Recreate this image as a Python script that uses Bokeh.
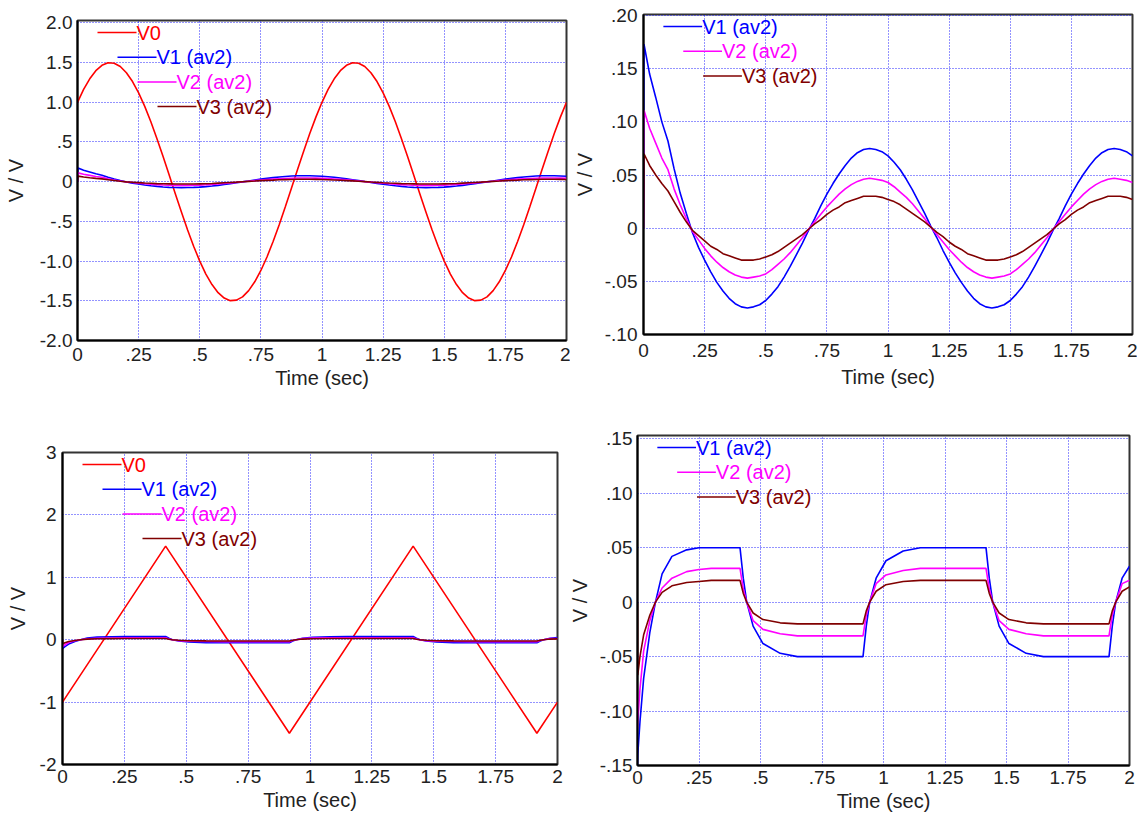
from bokeh.plotting import figure
from bokeh.models import Range1d, FixedTicker
from bokeh.layouts import column, row
from bokeh.core.properties import value
from bokeh.embed import file_html
from bokeh.resources import INLINE

# ---------------- data ----------------
# sine input V0 (sampled every 0.025 s)
T_SINE = [round(0.025 * i, 3) for i in range(81)]
V0_SINE = [1.000, 1.163, 1.296, 1.398, 1.466, 1.498, 1.492, 1.450, 1.372, 1.261,
           1.118, 0.948, 0.754, 0.542, 0.317, 0.083, -0.152, -0.383, -0.606, -0.813,
           -1.000, -1.163, -1.296, -1.398, -1.466, -1.498, -1.492, -1.450, -1.372, -1.261,
           -1.118, -0.948, -0.754, -0.542, -0.317, -0.083, 0.152, 0.383, 0.606, 0.813,
           1.000, 1.163, 1.296, 1.398, 1.466, 1.498, 1.492, 1.450, 1.372, 1.261,
           1.118, 0.948, 0.754, 0.542, 0.317, 0.083, -0.152, -0.383, -0.606, -0.813,
           -1.000, -1.163, -1.296, -1.398, -1.466, -1.498, -1.492, -1.450, -1.372, -1.261,
           -1.118, -0.948, -0.754, -0.542, -0.317, -0.083, 0.152, 0.383, 0.606, 0.813,
           1.000]

# filtered outputs for the sine input
T_SRESP = [0, 0.002] + [round(0.025 * i, 3) for i in range(1, 81)]
V1_SINE = [0.000, 0.173, 0.145, 0.123, 0.100, 0.082, 0.056, 0.033, 0.014, -0.004,
           -0.018, -0.030, -0.041,
           -0.051, -0.059, -0.066, -0.071, -0.074, -0.075, -0.074, -0.072, -0.068, -0.062,
           -0.055, -0.046, -0.036, -0.025, -0.014, -0.002, 0.009, 0.021, 0.032, 0.042,
           0.051, 0.059, 0.066, 0.071, 0.074, 0.075, 0.074, 0.072, 0.068, 0.062,
           0.055, 0.046, 0.036, 0.025, 0.014, 0.002, -0.009, -0.021, -0.032, -0.042,
           -0.051, -0.059, -0.066, -0.071, -0.074, -0.075, -0.074, -0.072, -0.068, -0.062,
           -0.055, -0.046, -0.036, -0.025, -0.014, -0.002, 0.009, 0.021, 0.032, 0.042,
           0.051, 0.059, 0.066, 0.071, 0.074, 0.075, 0.074, 0.072, 0.068]
V2_SINE = [0.000, 0.111, 0.094, 0.080, 0.066, 0.055, 0.037, 0.022, 0.009, -0.003,
           -0.011, -0.019, -0.026,
           -0.032, -0.037, -0.041, -0.044, -0.046, -0.047, -0.046, -0.045, -0.043, -0.039,
           -0.034, -0.029, -0.023, -0.016, -0.009, -0.001, 0.006, 0.013, 0.020, 0.026,
           0.032, 0.037, 0.041, 0.044, 0.046, 0.047, 0.046, 0.045, 0.043, 0.039,
           0.034, 0.029, 0.023, 0.016, 0.009, 0.001, -0.006, -0.013, -0.020, -0.026,
           -0.032, -0.037, -0.041, -0.044, -0.046, -0.047, -0.046, -0.045, -0.043, -0.039,
           -0.034, -0.029, -0.023, -0.016, -0.009, -0.001, 0.006, 0.013, 0.020, 0.026,
           0.032, 0.037, 0.041, 0.044, 0.046, 0.047, 0.046, 0.045, 0.043]
V3_SINE = [0.000, 0.070, 0.059, 0.050, 0.042, 0.035, 0.025, 0.015, 0.006, -0.002,
           -0.007, -0.012, -0.017,
           -0.020, -0.024, -0.026, -0.028, -0.030, -0.030, -0.030, -0.029, -0.027, -0.025,
           -0.022, -0.018, -0.014, -0.010, -0.006, -0.001, 0.004, 0.008, 0.013, 0.017,
           0.020, 0.024, 0.026, 0.028, 0.030, 0.030, 0.030, 0.029, 0.027, 0.025,
           0.022, 0.018, 0.014, 0.010, 0.006, 0.001, -0.004, -0.008, -0.013, -0.017,
           -0.020, -0.024, -0.026, -0.028, -0.030, -0.030, -0.030, -0.029, -0.027, -0.025,
           -0.022, -0.018, -0.014, -0.010, -0.006, -0.001, 0.004, 0.008, 0.013, 0.017,
           0.020, 0.024, 0.026, 0.028, 0.030, 0.030, 0.030, 0.029, 0.027]

# triangle input
T_TRI = [0, 0.4167, 0.9167, 1.4167, 1.9167, 2.0]
V0_TRI = [-1.0, 1.5, -1.5, 1.5, -1.5, -1.0]

# filtered outputs for the triangle input
T_TRESP = [0, 0.001, 0.01, 0.025, 0.05, 0.073, 0.1, 0.14, 0.2, 0.25, 0.3,
           0.4167, 0.43, 0.444, 0.47, 0.51, 0.58, 0.65,
           0.9167, 0.93, 0.944, 0.97, 1.01, 1.08, 1.15,
           1.4167, 1.43, 1.444, 1.47, 1.51, 1.58, 1.65,
           1.9167, 1.93, 1.944, 1.97, 2.0]
V1_TRI = [-0.150, -0.140, -0.110, -0.070, -0.028, 0.000, 0.026, 0.042, 0.048, 0.050, 0.050,
          0.050, 0.022, 0.000, -0.022, -0.038, -0.047, -0.050,
          -0.050, -0.022, 0.000, 0.022, 0.038, 0.047, 0.050,
          0.050, 0.022, 0.000, -0.022, -0.038, -0.047, -0.050,
          -0.050, -0.022, 0.000, 0.022, 0.033]
V2_TRI = [-0.115, -0.110, -0.080, -0.045, -0.017, 0.000, 0.013, 0.022, 0.028, 0.030, 0.031,
          0.031, 0.012, 0.000, -0.017, -0.025, -0.029, -0.031,
          -0.031, -0.012, 0.000, 0.017, 0.025, 0.029, 0.031,
          0.031, 0.012, 0.000, -0.017, -0.025, -0.029, -0.031,
          -0.031, -0.012, 0.000, 0.017, 0.020]
V3_TRI = [0.000, -0.067, -0.050, -0.030, -0.012, 0.000, 0.009, 0.015, 0.018, 0.019, 0.020,
          0.020, 0.008, 0.000, -0.010, -0.016, -0.019, -0.020,
          -0.020, -0.008, 0.000, 0.010, 0.016, 0.019, 0.020,
          0.020, 0.008, 0.000, -0.010, -0.016, -0.019, -0.020,
          -0.020, -0.008, 0.000, 0.010, 0.014]

X_TICKS = [0, 0.25, 0.5, 0.75, 1, 1.25, 1.5, 1.75, 2]
X_LABELS = ["0", ".25", ".5", ".75", "1", "1.25", "1.5", "1.75", "2"]

Y1_TICKS = [-2, -1.5, -1, -0.5, 0, 0.5, 1, 1.5, 2]
Y1_LABELS = ["-2.0", "-1.5", "-1.0", "-.5", "0", ".5", "1.0", "1.5", "2.0"]
Y2_TICKS = [-0.1, -0.05, 0, 0.05, 0.1, 0.15, 0.2]
Y2_LABELS = ["-.10", "-.05", "0", ".05", ".10", ".15", ".20"]
Y3_TICKS = [-2, -1, 0, 1, 2, 3]
Y3_LABELS = ["-2", "-1", "0", "1", "2", "3"]
Y4_TICKS = [-0.15, -0.1, -0.05, 0, 0.05, 0.1, 0.15]
Y4_LABELS = ["-.15", "-.10", "-.05", "0", ".05", ".10", ".15"]

NAMES = ["V0", "V1 (av2)", "V2 (av2)", "V3 (av2)"]
COLORS = ["#ff0000", "#0000ff", "#ff00ff", "#800000"]

FONT = "Liberation Sans"


def make_fig(width, height, bl, br, bt, bb, yr, yticks, ylabels,
             y_stand, y_lab_stand, x_stand, x_lab_stand):
    p = figure(width=width, height=height, x_range=Range1d(0, 2), y_range=Range1d(*yr),
               output_backend="svg", toolbar_location=None,
               min_border_left=bl, min_border_right=br, min_border_top=bt, min_border_bottom=bb)
    p.frame_align = False
    p.xaxis.ticker = FixedTicker(ticks=X_TICKS)
    p.xaxis.major_label_overrides = dict(zip(X_TICKS, X_LABELS))
    p.yaxis.ticker = FixedTicker(ticks=yticks)
    p.yaxis.major_label_overrides = dict(zip(yticks, ylabels))
    p.xaxis.axis_label = "Time (sec)"
    p.yaxis.axis_label = "V / V"
    for ax in (p.xaxis, p.yaxis):
        ax.axis_label_text_font = FONT
        ax.axis_label_text_font_style = "normal"
        ax.axis_label_text_font_size = "20px"
        ax.axis_label_text_color = "#222222"
        ax.major_label_text_font = FONT
        ax.major_label_text_font_size = "19px"
        ax.major_label_text_color = "#222222"
        ax.major_tick_out = 0
        ax.major_tick_in = 0
        ax.minor_tick_out = 0
        ax.minor_tick_in = 0
        ax.axis_line_color = "#000000"
        ax.axis_line_width = 2
    p.xaxis.major_label_standoff = x_stand
    p.xaxis.axis_label_standoff = x_lab_stand
    p.yaxis.major_label_standoff = y_stand
    p.yaxis.axis_label_standoff = y_lab_stand
    p.grid.grid_line_color = "#1010ff"
    p.grid.grid_line_dash = "1 2"
    p.grid.grid_line_width = 1
    p.grid.grid_line_alpha = 0.9
    p.outline_line_color = "#333333"
    p.outline_line_width = 2
    p.background_fill_color = "white"
    p.border_fill_color = "white"
    return p


def add_legend(p, frame_w, frame_h, yr, entries):
    # staggered legend: short line + label per series (offsets in frame pixels)
    ymin, ymax = yr
    for i, idx in enumerate(entries):
        x0 = 20 + 20 * i
        x1 = x0 + 39
        yp = 12 + 24.7 * i
        xd0 = x0 / frame_w * 2
        xd1 = x1 / frame_w * 2
        yd = ymax - yp / frame_h * (ymax - ymin)
        p.segment(x0=[xd0], y0=[yd], x1=[xd1], y1=[yd], line_color=COLORS[idx], line_width=1.5)
        p.text(x=[xd1], y=[yd], text=[NAMES[idx]], text_color=COLORS[idx],
               text_font=value(FONT), text_font_size="20px",
               text_baseline="middle", text_align="left")


LW = 1.6

# panel 1: sine input with all series
yr1 = (-2.0, 2.03)
p1 = make_fig(570, 420, 77, 4, 20, 80, yr1, Y1_TICKS, Y1_LABELS, 5, 10, 7, 3)
p1.line(T_SINE, V0_SINE, line_color=COLORS[0], line_width=LW)
p1.line(T_SRESP, V1_SINE, line_color=COLORS[1], line_width=LW)
p1.line(T_SRESP, V2_SINE, line_color=COLORS[2], line_width=LW)
p1.line(T_SRESP, V3_SINE, line_color=COLORS[3], line_width=LW)
add_legend(p1, 489, 320, yr1, [0, 1, 2, 3])

# panel 2: sine outputs
yr2 = (-0.1, 0.201)
p2 = make_fig(567, 420, 70, 5, 14, 86, yr2, Y2_TICKS, Y2_LABELS, 6, 6, 9, 6)
p2.line(T_SRESP, V1_SINE, line_color=COLORS[1], line_width=LW)
p2.line(T_SRESP, V2_SINE, line_color=COLORS[2], line_width=LW)
p2.line(T_SRESP, V3_SINE, line_color=COLORS[3], line_width=LW)
add_legend(p2, 492, 320, yr2, [1, 2, 3])

# panel 3: triangle input with all series
yr3 = (-2.0, 3.0)
p3 = make_fig(565, 396, 62, 8, 32, 52, yr3, Y3_TICKS, Y3_LABELS, 6, 8, 5, 3)
p3.line(T_TRI, V0_TRI, line_color=COLORS[0], line_width=LW)
p3.line(T_TRESP, V1_TRI, line_color=COLORS[1], line_width=LW)
p3.line(T_TRESP, V2_TRI, line_color=COLORS[2], line_width=LW)
p3.line(T_TRESP, V3_TRI, line_color=COLORS[3], line_width=LW)
add_legend(p3, 495, 312, yr3, [0, 1, 2, 3])

# panel 4: triangle outputs
yr4 = (-0.15, 0.153)
p4 = make_fig(572, 396, 68, 8, 15, 51, yr4, Y4_TICKS, Y4_LABELS, 5, 6, 5, 3)
p4.line(T_TRESP, V1_TRI, line_color=COLORS[1], line_width=LW)
p4.line(T_TRESP, V2_TRI, line_color=COLORS[2], line_width=LW)
p4.line(T_TRESP, V3_TRI, line_color=COLORS[3], line_width=LW)
add_legend(p4, 496, 330, yr4, [1, 2, 3])

layout = column(row(p1, p2), row(p3, p4))

open("out.html", "w").write(file_html(layout, INLINE))
